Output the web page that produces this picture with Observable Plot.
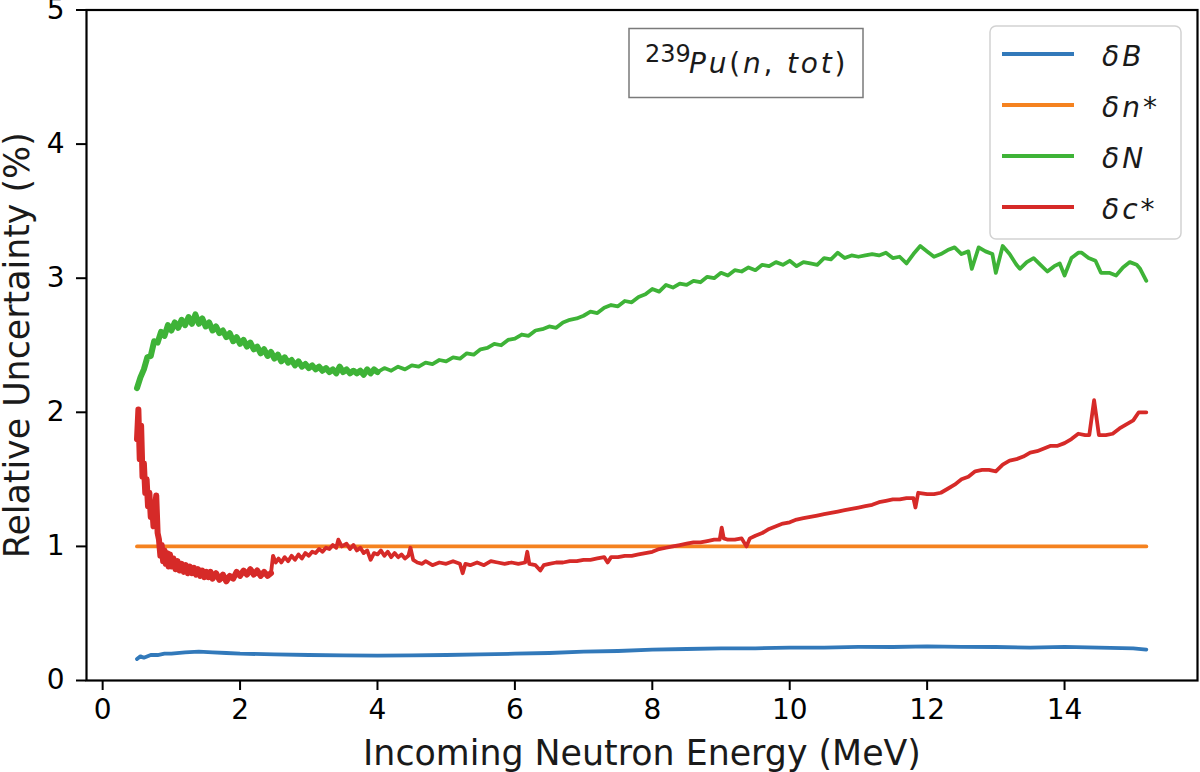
<!DOCTYPE html>
<html>
<head>
<meta charset="utf-8">
<script src="https://cdn.jsdelivr.net/npm/d3@7"></script>
<script src="https://cdn.jsdelivr.net/npm/@observablehq/plot@0.6"></script>
<style>
  html, body { margin: 0; padding: 0; background: #fff; }
  #chart { width: 1200px; height: 772px; }
</style>
</head>
<body>
<div id="chart"></div>
<script>
// Relative uncertainty components for 239Pu(n,tot), [energy MeV, uncertainty %]
const deltaB = [
  [0.50,0.16],[0.55,0.18],[0.60,0.17],[0.70,0.19],[0.80,0.19],[0.90,0.20],[1.00,0.20],
  [1.20,0.21],[1.40,0.215],[1.60,0.21],[1.80,0.205],[2.00,0.20],[2.50,0.195],[3.00,0.19],
  [3.50,0.187],[4.00,0.185],[4.50,0.187],[5.00,0.19],[5.50,0.195],[6.00,0.20],[6.50,0.205],
  [7.00,0.215],[7.50,0.22],[8.00,0.23],[8.50,0.235],[9.00,0.24],[9.50,0.24],[10.0,0.245],
  [10.5,0.245],[11.0,0.25],[11.5,0.25],[12.0,0.255],[12.5,0.25],[13.0,0.25],[13.5,0.245],
  [14.0,0.25],[14.5,0.245],[15.0,0.24],[15.19,0.23]
];

const deltaNstar = [[0.50,1.0],[15.19,1.0]];

const deltaN = [
  [0.50,2.18],[0.55,2.26],[0.60,2.32],[0.65,2.41],[0.70,2.42],[0.75,2.53],[0.80,2.52],
  [0.85,2.60],[0.90,2.57],[0.95,2.65],[1.00,2.61],[1.05,2.67],[1.10,2.63],[1.15,2.69],
  [1.20,2.65],[1.25,2.71],[1.30,2.66],[1.35,2.73],[1.40,2.66],[1.45,2.70],[1.50,2.64],
  [1.55,2.67],[1.60,2.61],[1.65,2.64],[1.70,2.59],[1.75,2.61],[1.80,2.56],[1.85,2.59],
  [1.90,2.53],[1.95,2.56],[2.00,2.51],[2.05,2.54],[2.10,2.49],[2.15,2.52],[2.20,2.47],
  [2.25,2.49],[2.30,2.44],[2.35,2.47],[2.40,2.42],[2.45,2.45],[2.50,2.40],[2.55,2.43],
  [2.60,2.38],[2.65,2.41],[2.70,2.37],[2.75,2.39],[2.80,2.35],[2.85,2.38],[2.90,2.34],
  [2.95,2.36],[3.00,2.33],[3.05,2.35],[3.10,2.32],[3.15,2.34],[3.20,2.31],[3.25,2.33],
  [3.30,2.30],[3.35,2.32],[3.40,2.29],[3.45,2.34],[3.50,2.30],[3.55,2.32],[3.60,2.29],
  [3.65,2.31],[3.70,2.29],[3.75,2.31],[3.80,2.28],[3.85,2.32],[3.90,2.29],[3.95,2.32],
  [4.00,2.30],[4.1,2.33],[4.2,2.31],[4.3,2.34],[4.4,2.32],[4.5,2.35],[4.6,2.34],[4.7,2.37],
  [4.8,2.36],[4.9,2.39],[5.0,2.38],[5.1,2.41],[5.2,2.40],[5.3,2.44],[5.4,2.43],[5.5,2.47],
  [5.6,2.48],[5.7,2.51],[5.8,2.50],[5.9,2.54],[6.0,2.55],[6.1,2.58],[6.2,2.57],[6.3,2.61],
  [6.4,2.62],[6.5,2.64],[6.6,2.63],[6.7,2.67],[6.8,2.69],[6.9,2.70],[7.0,2.72],[7.1,2.75],
  [7.2,2.74],[7.3,2.78],[7.4,2.80],[7.5,2.79],[7.6,2.83],[7.7,2.82],[7.8,2.86],[7.9,2.88],
  [8.0,2.92],[8.1,2.90],[8.2,2.95],[8.3,2.93],[8.4,2.96],[8.5,2.95],[8.6,2.98],[8.7,2.97],
  [8.8,3.01],[8.9,3.00],[9.0,3.04],[9.1,3.02],[9.2,3.06],[9.3,3.05],[9.4,3.08],[9.5,3.06],
  [9.6,3.10],[9.7,3.09],[9.8,3.12],[9.9,3.10],[10.0,3.13],[10.1,3.09],[10.2,3.12],[10.3,3.11],
  [10.4,3.10],[10.5,3.15],[10.6,3.14],[10.7,3.19],[10.8,3.15],[10.9,3.17],[11.0,3.16],
  [11.1,3.17],[11.2,3.18],[11.3,3.17],[11.4,3.19],[11.5,3.15],[11.6,3.16],[11.7,3.11],
  [11.8,3.18],[11.9,3.24],[12.0,3.20],[12.1,3.16],[12.2,3.18],[12.3,3.21],[12.4,3.23],
  [12.5,3.18],[12.6,3.20],[12.65,3.07],[12.75,3.23],[12.85,3.20],[12.95,3.18],[13.0,3.04],
  [13.1,3.24],[13.2,3.18],[13.3,3.10],[13.35,3.07],[13.45,3.12],[13.55,3.15],[13.65,3.10],
  [13.75,3.05],[13.85,3.09],[13.93,3.11],[14.0,3.02],[14.1,3.15],[14.2,3.19],[14.25,3.19],
  [14.35,3.15],[14.45,3.13],[14.53,3.04],[14.65,3.04],[14.75,3.02],[14.85,3.08],[14.95,3.12],
  [15.05,3.10],[15.1,3.07],[15.19,2.98]
];

const deltaC = [
  [0.50,1.80],[0.52,2.02],[0.54,1.65],[0.56,1.90],[0.58,1.52],[0.60,1.62],[0.62,1.40],
  [0.64,1.50],[0.66,1.30],[0.68,1.40],[0.70,1.22],[0.72,1.30],[0.74,1.15],[0.76,1.28],
  [0.78,1.38],[0.80,1.10],[0.82,1.05],[0.84,0.93],[0.86,1.01],[0.88,0.89],[0.90,0.97],
  [0.92,0.87],[0.94,0.95],[0.96,0.85],[0.98,0.94],[1.00,0.85],[1.03,0.91],[1.06,0.83],
  [1.09,0.89],[1.12,0.82],[1.15,0.87],[1.18,0.81],[1.21,0.86],[1.24,0.80],[1.27,0.85],
  [1.30,0.80],[1.33,0.84],[1.36,0.79],[1.39,0.83],[1.42,0.78],[1.45,0.82],[1.48,0.77],
  [1.51,0.81],[1.54,0.77],[1.57,0.81],[1.60,0.76],[1.65,0.80],[1.70,0.75],[1.75,0.79],
  [1.80,0.74],[1.85,0.78],[1.90,0.76],[1.95,0.81],[2.00,0.78],[2.05,0.82],[2.10,0.79],
  [2.15,0.83],[2.20,0.79],[2.25,0.82],[2.30,0.78],[2.35,0.81],[2.40,0.78],[2.45,0.80],
  [2.48,0.93],[2.52,0.88],[2.56,0.91],[2.60,0.88],[2.65,0.92],[2.70,0.89],[2.75,0.93],
  [2.80,0.90],[2.85,0.94],[2.90,0.91],[2.95,0.95],[3.00,0.93],[3.05,0.96],[3.10,0.95],
  [3.15,0.98],[3.20,0.96],[3.25,0.99],[3.30,0.98],[3.35,1.01],[3.40,0.99],[3.43,1.05],
  [3.48,1.00],[3.55,1.02],[3.60,0.98],[3.65,1.01],[3.70,0.97],[3.75,0.99],[3.80,0.95],
  [3.85,0.97],[3.90,0.90],[3.95,0.95],[4.00,0.94],[4.05,0.97],[4.10,0.93],[4.15,0.96],
  [4.20,0.92],[4.25,0.95],[4.30,0.92],[4.35,0.94],[4.40,0.91],[4.45,0.93],[4.48,0.99],
  [4.52,0.90],[4.58,0.88],[4.65,0.87],[4.70,0.89],[4.80,0.86],[4.90,0.88],[5.00,0.87],
  [5.10,0.89],[5.20,0.87],[5.24,0.80],[5.28,0.87],[5.35,0.86],[5.45,0.88],[5.55,0.86],
  [5.65,0.89],[5.75,0.88],[5.85,0.87],[5.95,0.88],[6.05,0.87],[6.15,0.88],[6.18,0.96],
  [6.21,0.87],[6.30,0.86],[6.37,0.82],[6.42,0.86],[6.50,0.87],[6.60,0.88],[6.70,0.88],
  [6.80,0.89],[6.90,0.89],[7.00,0.90],[7.10,0.90],[7.20,0.91],[7.30,0.92],[7.35,0.88],
  [7.40,0.92],[7.50,0.92],[7.60,0.93],[7.70,0.93],[7.80,0.94],[7.90,0.95],[8.00,0.96],
  [8.10,0.98],[8.20,0.99],[8.30,1.00],[8.40,1.01],[8.50,1.02],[8.60,1.03],[8.70,1.03],
  [8.80,1.04],[8.90,1.05],[8.98,1.05],[9.01,1.14],[9.04,1.06],[9.10,1.05],[9.20,1.05],
  [9.30,1.06],[9.37,1.00],[9.42,1.06],[9.50,1.08],[9.60,1.10],[9.70,1.13],[9.80,1.15],
  [9.90,1.17],[10.0,1.18],[10.1,1.20],[10.2,1.21],[10.3,1.22],[10.4,1.23],[10.5,1.24],
  [10.6,1.25],[10.7,1.26],[10.8,1.27],[10.9,1.28],[11.0,1.29],[11.1,1.30],[11.2,1.31],
  [11.3,1.33],[11.4,1.34],[11.5,1.35],[11.6,1.35],[11.7,1.36],[11.8,1.36],[11.83,1.29],
  [11.87,1.40],[12.0,1.39],[12.1,1.39],[12.2,1.40],[12.3,1.43],[12.4,1.46],[12.5,1.50],
  [12.6,1.52],[12.7,1.56],[12.8,1.57],[12.9,1.57],[13.0,1.56],[13.1,1.61],[13.2,1.64],
  [13.3,1.65],[13.4,1.67],[13.5,1.70],[13.6,1.71],[13.7,1.73],[13.8,1.75],[13.9,1.75],
  [14.0,1.77],[14.1,1.80],[14.2,1.84],[14.3,1.83],[14.36,1.83],[14.43,2.09],[14.5,1.83],
  [14.6,1.83],[14.7,1.84],[14.8,1.88],[14.9,1.91],[15.0,1.94],[15.08,2.00],[15.19,2.00]
];

const seriesNames = ["δB", "δn*", "δN", "δc*"];
const seriesColors = ["#3279ba", "#f5821f", "#3eb337", "#d62a28"];
const seriesData = [deltaB, deltaNstar, deltaN, deltaC];
// energy below which the measured points are densely packed (drawn as a thicker trace)
const denseLimit = [0, 0, 4.0, 2.45];

const xTicks = [0, 2, 4, 6, 8, 10, 12, 14];
const yTicks = [0, 1, 2, 3, 4, 5];
const xLabel = "Incoming Neutron Energy (MeV)";
const yLabel = "Relative Uncertainty (%)";

const font = "DejaVu Sans";

const lineMarks = seriesData.flatMap((d, i) => {
  const lim = denseLimit[i];
  const common = { x: "0", y: "1", stroke: seriesColors[i], strokeLinejoin: "round", strokeLinecap: "round" };
  if (!lim) return [Plot.line(d, { ...common, strokeWidth: 3.8 })];
  return [
    Plot.line(d.filter(p => p[0] <= lim), { ...common, strokeWidth: 6 }),
    Plot.line(d.filter(p => p[0] >= lim), { ...common, strokeWidth: 3.8 })
  ];
});

const plot = Plot.plot({
  width: 1200,
  height: 772,
  marginLeft: 86,
  marginRight: 3,
  marginTop: 9.5,
  marginBottom: 92,
  style: { fontFamily: font, fontSize: "28px", color: "#000", background: "#fff" },
  x: { domain: [-0.235, 15.935] },
  y: { domain: [0, 5] },
  marks: [
    ...lineMarks,
    Plot.axisX({ ticks: xTicks, tickSize: 10, tickPadding: 9, strokeWidth: 2, label: null, fontSize: 28, tickFormat: d => String(d) }),
    Plot.axisY({ ticks: yTicks, tickSize: 10, tickPadding: 12, strokeWidth: 2, label: null, fontSize: 28, tickFormat: d => String(d) }),
    Plot.text([xLabel], { frameAnchor: "bottom", dy: 73, lineAnchor: "middle", textAnchor: "middle", text: d => d, fontSize: 34.8, fill: "#1a1a1a" }),
    Plot.text([yLabel], { frameAnchor: "left", dx: -69, rotate: -90, lineAnchor: "middle", textAnchor: "middle", text: d => d, fontSize: 34.8, fill: "#1a1a1a" }),
    Plot.frame({ stroke: "#000", strokeWidth: 2.2 })
  ]
});

document.getElementById("chart").appendChild(plot);

// Legend and reaction label inside the plot area
const svg = d3.select(plot);
const legend = svg.append("g").attr("text-anchor", "start");
legend.append("rect")
  .attr("x", 990).attr("y", 26).attr("width", 191).attr("height", 213)
  .attr("rx", 6).attr("fill", "#fff").attr("fill-opacity", 0.8)
  .attr("stroke", "#d2d2d2").attr("stroke-width", 1.5);
seriesNames.forEach((name, i) => {
  const yy = 54 + i * 51;
  legend.append("line")
    .attr("x1", 1002).attr("x2", 1074).attr("y1", yy).attr("y2", yy)
    .attr("stroke", seriesColors[i]).attr("stroke-width", 3.8);
  legend.append("text")
    .attr("x", 1102).attr("y", yy + 12)
    .attr("font-family", font).attr("font-style", "italic").attr("font-size", 28)
    .attr("letter-spacing", 3)
    .attr("fill", "#1a1a1a")
    .text(name);
});

const note = svg.append("g").attr("text-anchor", "start");
note.append("rect")
  .attr("x", 629).attr("y", 28.5).attr("width", 234).attr("height", 69)
  .attr("fill", "#fff").attr("stroke", "#7a7a7a").attr("stroke-width", 1.5);
note.append("text")
  .attr("x", 645).attr("y", 62)
  .attr("font-family", font).attr("font-size", 24).attr("fill", "#1a1a1a")
  .text("239");
const reaction = note.append("text")
  .attr("x", 689).attr("y", 73)
  .attr("font-family", font).attr("font-size", 28).attr("fill", "#1a1a1a")
  .attr("letter-spacing", 2.8);
[["Pu", true], ["(", false], ["n", true], [",", false], [" tot", true], [")", false]].forEach(([t, it]) => {
  reaction.append("tspan").attr("font-style", it ? "italic" : "normal").text(t);
});
</script>
</body>
</html>
